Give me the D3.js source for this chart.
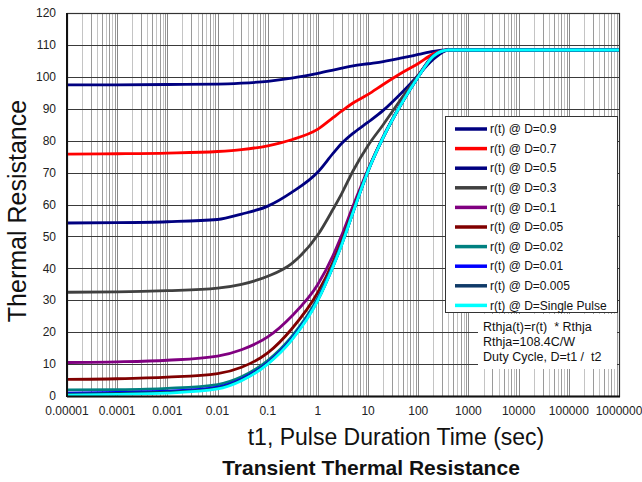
<!DOCTYPE html>
<html>
<head>
<meta charset="utf-8">
<script src="https://cdn.jsdelivr.net/npm/d3@7"></script>
<style>
body { margin: 0; background: #fff; }
text { font-family: "Liberation Sans", Arial, sans-serif; white-space: pre; }
</style>
</head>
<body>
<svg id="chart" width="642" height="482"></svg>
<script>
// pulse times (sec) shared by every curve
var times = [1e-5, 1e-4, 1e-3, 0.01, 0.03, 0.1, 0.3, 1, 2, 3, 5, 10, 20, 50, 100, 200, 400, 1e3, 1e4, 1e5, 1e6];

var d09   = [97.5, 97.5, 97.6, 97.7, 98.0, 98.6, 99.6, 101.1, 102.1, 102.7, 103.4, 104.1, 104.8, 106.0, 107.0, 108.0, 108.4, 108.4, 108.4, 108.4, 108.4];
var d07   = [75.8, 75.9, 76.1, 76.6, 77.2, 78.4, 80.3, 83.6, 87.2, 89.3, 91.8, 94.5, 97.6, 101.5, 104.2, 107.2, 108.4, 108.4, 108.4, 108.4, 108.4];
var d05   = [54.2, 54.3, 54.6, 55.3, 57.0, 59.5, 63.8, 70.2, 76.0, 79.2, 82.3, 85.8, 89.5, 95.5, 100.5, 105.5, 108.4, 108.4, 108.4, 108.4, 108.4];
var d03   = [32.5, 32.6, 33.0, 33.8, 35.0, 37.5, 41.5, 50.5, 58.5, 63.5, 70.5, 78.5, 85.0, 94.0, 100.5, 106.4, 108.4, 108.4, 108.4, 108.4, 108.4];
var d01   = [10.5, 10.7, 11.2, 12.5, 14.5, 18.5, 25.0, 35.0, 44.0, 50.5, 59.5, 71.0, 81.3, 92.7, 100.2, 106.7, 108.4, 108.4, 108.4, 108.4, 108.4];
var d005  = [5.2, 5.4, 5.9, 7.0, 9.0, 13.5, 21.0, 32.5, 42.0, 48.7, 58.3, 70.8, 81.1, 92.6, 100.1, 106.6, 108.4, 108.4, 108.4, 108.4, 108.4];
var d002  = [1.9, 2.0, 2.4, 3.6, 6.0, 11.1, 18.6, 30.8, 41.0, 47.9, 57.8, 70.6, 81.0, 92.5, 100.0, 106.5, 108.4, 108.4, 108.4, 108.4, 108.4];
var d001  = [0.9, 1.1, 1.5, 2.8, 5.3, 10.5, 18.0, 30.3, 40.7, 47.7, 57.6, 70.5, 81.0, 92.5, 100.0, 106.5, 108.4, 108.4, 108.4, 108.4, 108.4];
var d0005 = [0.6, 0.8, 1.2, 2.5, 5.0, 10.2, 17.7, 30.1, 40.6, 47.6, 57.5, 70.5, 81.0, 92.5, 100.0, 106.5, 108.4, 108.4, 108.4, 108.4, 108.4];
var single = [0.3, 0.5, 0.9, 2.2, 4.8, 10.0, 17.5, 30.0, 40.5, 47.5, 57.5, 70.5, 81.0, 92.5, 100.0, 106.5, 108.4, 108.4, 108.4, 108.4, 108.4];

var seriesNames = ["r(t) @ D=0.9", "r(t) @ D=0.7", "r(t) @ D=0.5", "r(t) @ D=0.3", "r(t) @ D=0.1",
                   "r(t) @ D=0.05", "r(t) @ D=0.02", "r(t) @ D=0.01", "r(t) @ D=0.005", "r(t) @ D=Single Pulse"];
var seriesValues = [d09, d07, d05, d03, d01, d005, d002, d001, d0005, single];
var seriesColors = ["#000080", "#ff0000", "#000080", "#404040", "#800080",
                    "#800000", "#008080", "#0000ff", "#0f3a68", "#00ffff"];

var xTicks = [1e-5, 1e-4, 1e-3, 1e-2, 0.1, 1, 10, 100, 1000, 1e4, 1e5, 1e6];
var xTickLabels = ["0.00001", "0.0001", "0.001", "0.01", "0.1", "1", "10", "100", "1000", "10000", "100000", "1000000"];
var yTicks = [0, 10, 20, 30, 40, 50, 60, 70, 80, 90, 100, 110, 120];
var noteLines = ["Rthja(t)=r(t)  * Rthja", "Rthja=108.4C/W", "Duty Cycle, D=t1 /  t2"];

var plotL = 67, plotR = 619, plotT = 13, plotB = 396;
var svg = d3.select("#chart");

var x = d3.scaleLog().domain([1e-5, 1e6]).range([plotL, plotR]);
var y = d3.scaleLinear().domain([0, 120]).range([plotB, plotT]);

// minor vertical grid (2..9 in each decade)
var minors = [];
for (var e = -5; e < 6; e++) {
    for (var m = 2; m <= 9; m++) minors.push(m * Math.pow(10, e));
}
svg.append("g").selectAll("line").data(minors).enter().append("line")
    .attr("x1", d => Math.round(x(d)) + 0.5).attr("x2", d => Math.round(x(d)) + 0.5)
    .attr("y1", plotT).attr("y2", plotB)
    .attr("stroke", (d, i) => (i % 2 ? "#9a9a9a" : "#c4c4c4")).attr("stroke-width", 1);

svg.append("g").selectAll("line").data(xTicks).enter().append("line")
    .attr("x1", d => Math.round(x(d)) + 0.5).attr("x2", d => Math.round(x(d)) + 0.5)
    .attr("y1", plotT).attr("y2", plotB)
    .attr("stroke", "#8a8a8a").attr("stroke-width", 1);

// horizontal grid
svg.append("g").selectAll("line").data(yTicks).enter().append("line")
    .attr("x1", plotL).attr("x2", plotR)
    .attr("y1", d => Math.round(y(d)) + 0.5).attr("y2", d => Math.round(y(d)) + 0.5)
    .attr("stroke", "#3a3a3a").attr("stroke-width", 1);

svg.append("rect")
    .attr("x", plotL + 0.5).attr("y", plotT + 0.5)
    .attr("width", plotR - plotL).attr("height", plotB - plotT)
    .attr("fill", "none").attr("stroke", "#333").attr("stroke-width", 1.2);

// curves
var line = d3.line()
    .x(d => x(d[0]))
    .y(d => y(d[1]))
    .curve(d3.curveMonotoneX);

svg.append("g").selectAll("path").data(seriesValues).enter().append("path")
    .attr("d", vals => line(vals.map((v, i) => [times[i], v])))
    .attr("fill", "none")
    .attr("stroke", (d, i) => seriesColors[i])
    .attr("stroke-width", 2.8)
    .attr("stroke-linejoin", "round");

// axes lines
svg.append("line").attr("x1", plotL).attr("x2", plotL).attr("y1", plotT).attr("y2", plotB + 1)
    .attr("stroke", "#111").attr("stroke-width", 2);
svg.append("line").attr("x1", plotL).attr("x2", plotR + 1).attr("y1", plotB + 0.5).attr("y2", plotB + 0.5)
    .attr("stroke", "#111").attr("stroke-width", 2);

// tick labels
svg.append("g").selectAll("text").data(yTicks).enter().append("text")
    .attr("x", 56).attr("y", d => y(d)).attr("dy", "0.35em")
    .attr("text-anchor", "end").attr("font-size", "12px").attr("fill", "#222")
    .text(d => d);

svg.append("g").selectAll("text").data(xTicks).enter().append("text")
    .attr("x", d => x(d)).attr("y", 415)
    .attr("text-anchor", "middle").attr("font-size", "12px").attr("fill", "#222")
    .text((d, i) => xTickLabels[i]);

// axis titles
svg.append("text")
    .attr("transform", "translate(26,211) rotate(-90)")
    .attr("text-anchor", "middle").attr("font-size", "25px").attr("fill", "#111")
    .text("Thermal Resistance");

svg.append("text")
    .attr("x", 396).attr("y", 445)
    .attr("text-anchor", "middle").attr("font-size", "23px").attr("fill", "#111")
    .text("t1, Pulse Duration Time (sec)");

svg.append("text")
    .attr("x", 371).attr("y", 475)
    .attr("text-anchor", "middle").attr("font-size", "21px").attr("font-weight", "bold").attr("fill", "#111")
    .text("Transient Thermal Resistance");

// legend
var legend = svg.append("g");
legend.append("rect")
    .attr("x", 445.5).attr("y", 116.5).attr("width", 172).attr("height", 196)
    .attr("fill", "#fff").attr("stroke", "#333").attr("stroke-width", 1);

var items = legend.selectAll("g").data(seriesNames).enter().append("g")
    .attr("transform", (d, i) => "translate(0," + (129 + i * 19.6) + ")");
items.append("line")
    .attr("x1", 455).attr("x2", 487).attr("y1", 0).attr("y2", 0)
    .attr("stroke", (d, i) => seriesColors[i]).attr("stroke-width", 3.5);
items.append("text")
    .attr("x", 490).attr("y", 0).attr("dy", "0.35em")
    .attr("font-size", "12px").attr("fill", "#111")
    .text(d => d);

// note box
var note = svg.append("g");
note.append("rect")
    .attr("x", 478).attr("y", 314).attr("width", 139).attr("height", 55)
    .attr("fill", "#fff");
note.selectAll("text").data(noteLines).enter().append("text")
    .attr("x", 483).attr("y", (d, i) => 331 + i * 15)
    .attr("font-size", "12.5px").attr("fill", "#111")
    .text(d => d);
</script>
</body>
</html>
